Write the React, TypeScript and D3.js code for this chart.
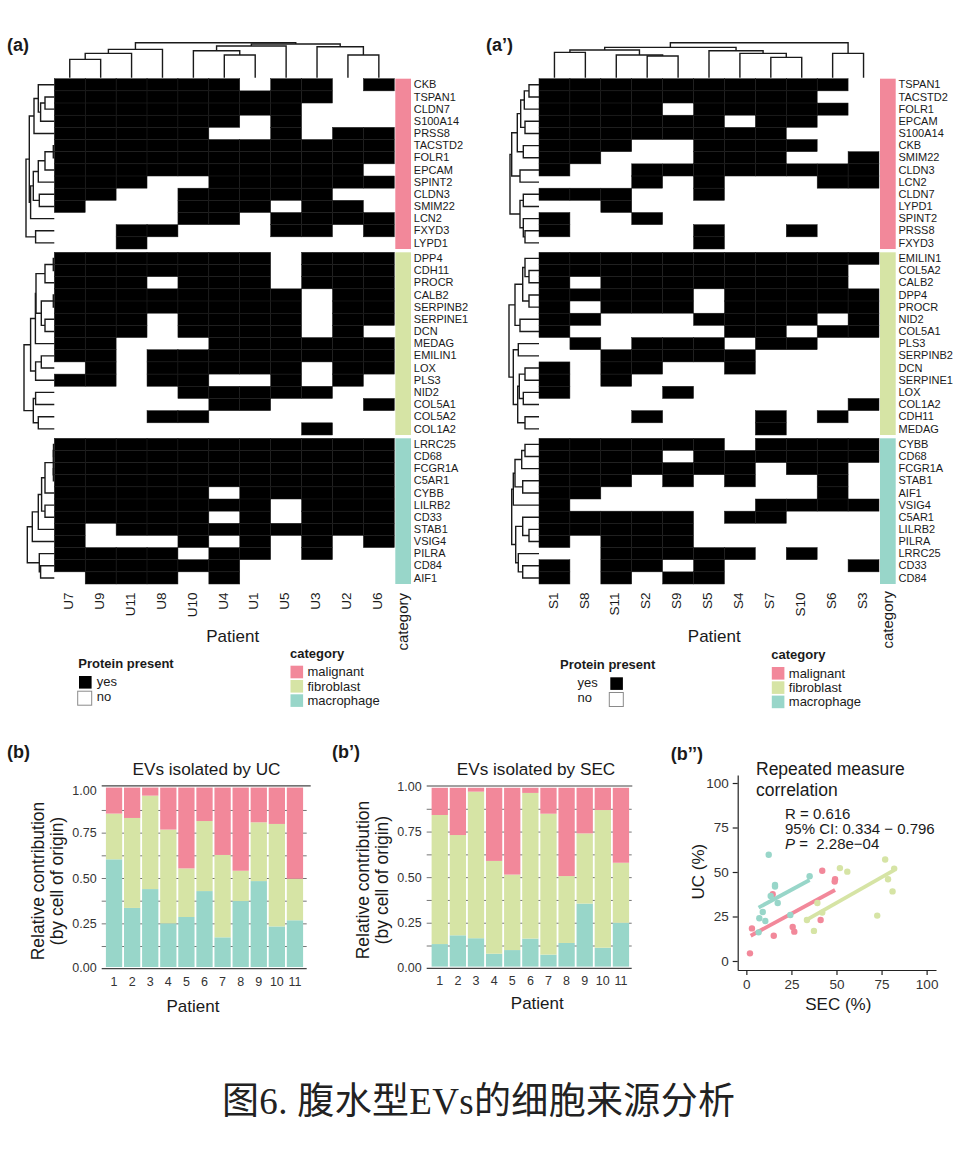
import { useEffect, useRef } from 'react';
import * as d3 from 'd3';

// ---- shared colours ----
const PINK = '#f2889a';
const GREEN = '#d6e4a5';
const TEAL = '#98d6c9';
const categoryNames = ['malignant', 'fibroblast', 'macrophage'];
const categoryColors = [PINK, GREEN, TEAL];

// ---- heatmap (a): ultracentrifugation ----
const patientsUC = ['U7', 'U9', 'U11', 'U8', 'U10', 'U4', 'U1', 'U5', 'U3', 'U2', 'U6'];

const malignantUC = ['CKB', 'TSPAN1', 'CLDN7', 'S100A14', 'PRSS8', 'TACSTD2', 'FOLR1', 'EPCAM', 'SPINT2', 'CLDN3', 'SMIM22', 'LCN2', 'FXYD3', 'LYPD1'];
const malignantPresenceUC = [
  '11111101101', '11111111100', '11111111000', '11111101000', '11111001011', '11111111111', '11111111111',
  '11111111110', '11100111111', '11001111100', '10001110110', '00001101111', '00110001101', '00100000000',
];
const fibroblastUC = ['DPP4', 'CDH11', 'PROCR', 'CALB2', 'SERPINB2', 'SERPINE1', 'DCN', 'MEDAG', 'EMILIN1', 'LOX', 'PLS3', 'NID2', 'COL5A1', 'COL5A2', 'COL1A2'];
const fibroblastPresenceUC = [
  '11111110111', '11111110111', '11101110111', '11111111011', '11111111011', '11101111011', '11101111010', '11000111111',
  '11011111111', '01011111011', '11011001010', '00001111100', '00000110001', '00011000000', '00000000100',
];
const macrophageUC = ['LRRC25', 'CD68', 'FCGR1A', 'C5AR1', 'CYBB', 'LILRB2', 'CD33', 'STAB1', 'VSIG4', 'PILRA', 'CD84', 'AIF1'];
const macrophagePresenceUC = [
  '11111111111', '11111111111', '11111111111', '11111111111', '11111011111', '11111110111',
  '11111010111', '10111111111', '10001010101', '11110110100', '11111100000', '01110100000',
];

// ---- heatmap (a'): size exclusion chromatography ----
const patientsSEC = ['S1', 'S8', 'S11', 'S2', 'S9', 'S5', 'S4', 'S7', 'S10', 'S6', 'S3'];

const malignantSEC = ['TSPAN1', 'TACSTD2', 'FOLR1', 'EPCAM', 'S100A14', 'CKB', 'SMIM22', 'CLDN3', 'LCN2', 'CLDN7', 'LYPD1', 'SPINT2', 'PRSS8', 'FXYD3'];
const malignantPresenceSEC = [
  '11111111110', '11111111100', '11110111110', '11111101100', '11111111000', '11100111100', '11000111001',
  '10011111111', '00010100011', '11100100000', '00100000000', '10010000000', '10000100100', '00000100000',
];
const fibroblastSEC = ['EMILIN1', 'COL5A2', 'CALB2', 'DPP4', 'PROCR', 'NID2', 'COL5A1', 'PLS3', 'SERPINB2', 'DCN', 'SERPINE1', 'LOX', 'COL1A2', 'CDH11', 'MEDAG'];
const fibroblastPresenceSEC = [
  '11111111111', '11111111110', '10111111110', '11111011111', '10111011111', '11000111101', '10000011011', '01011101100',
  '00111110000', '10110010000', '10100000000', '10001000000', '00000000001', '00010001010', '00000001000',
];
const macrophageSEC = ['CYBB', 'CD68', 'FCGR1A', 'STAB1', 'AIF1', 'VSIG4', 'C5AR1', 'LILRB2', 'PILRA', 'LRRC25', 'CD33', 'CD84'];
const macrophagePresenceSEC = [
  '11111101111', '11110111111', '11111110110', '11101010010', '11000000010', '10000001111',
  '11111011000', '11111000000', '10111000000', '00111110100', '10110100001', '10101100000',
];

// ---- dendrograms: [merge height, left, right], leaves are names ----
type Tree = string | [number, Tree, Tree];

const colTreeUC: Tree = [35,
  [28.3, [24.3, [18.3, 'U7', 'U9'], 'U11'], 'U8'],
  [33.7, [31.7, [27, 'U10', [22.7, 'U4', 'U1']], 'U5'], [31, 'U3', [22.7, 'U2', 'U6']]]];
const malignantTreeUC: Tree = [28.3,
  [25,
    [20.3, [16, 'CKB', [13.7, [9.3, 'TSPAN1', 'CLDN7'], 'S100A14']], 'PRSS8'],
    [23.7, [21, [16, [9.3, [1, 'TACSTD2', 'FOLR1'], 'EPCAM'], 'SPINT2'], [15, 'CLDN3', 'SMIM22']], 'LCN2']],
  [18.7, 'FXYD3', 'LYPD1']];
const fibroblastTreeUC: Tree = [30.3,
  [23.7,
    [18.9, [18.3, [9.3, [1, 'DPP4', 'CDH11'], 'PROCR'], [13, [1, 'CALB2', 'SERPINB2'], [9.3, 'SERPINE1', 'DCN']]], 'MEDAG'],
    [18.7, [13, 'EMILIN1', 'LOX'], 'PLS3']],
  [21, [18.7, 'NID2', 'COL5A1'], [16, 'COL5A2', 'COL1A2']]];
const macrophageTreeUC: Tree = [27,
  [22,
    [16, [12.7, [9.3, [1, [0.8, 'LRRC25', 'CD68'], [0.9, 'FCGR1A', 'C5AR1']], 'CYBB'], [9.3, 'LILRB2', 'CD33']], 'STAB1'],
    'VSIG4'],
  [15, 'PILRA', [13.7, 'CD84', 'AIF1']]];

const colTreeSEC: Tree = [35,
  [30.3,
    [27.7, [25.3, 'S1', 'S8'], [22.7, 'S11', [21.7, 'S2', 'S9']]],
    [27, 'S5', [24.3, 'S4', [20.3, 'S7', 'S10']]]],
  [24.3, 'S6', 'S3']];
const malignantTreeSEC: Tree = [29,
  [27.3,
    [21.7, [18.3, [14.7, [10, 'TSPAN1', 'TACSTD2'], 'FOLR1'], [14, 'EPCAM', 'S100A14']], [15.7, 'CKB', 'SMIM22']],
    [19, 'CLDN3', 'LCN2']],
  [19, [15.7, 'CLDN7', 'LYPD1'], [15.7, 'SPINT2', [14, 'PRSS8', 'FXYD3']]]];
const fibroblastTreeSEC: Tree = [30,
  [24, [16.3, [14, 'EMILIN1', [10, 'COL5A2', 'CALB2']], [10, 'DPP4', 'PROCR']], [19, 'NID2', 'COL5A1']],
  [25.7,
    [20.7, 'PLS3', 'SERPINB2'],
    [21.3, [19.7, [14, 'DCN', 'SERPINE1'], [15.7, 'LOX', 'COL1A2']], [14, 'CDH11', 'MEDAG']]]];
const macrophageTreeSEC: Tree = [27.3,
  [25.7, [24, [17.3, [14, 'CYBB', 'CD68'], 'FCGR1A'], [16.3, 'STAB1', 'AIF1']], 'VSIG4'],
  [23.3, [16.3, 'C5AR1', [10, 'LILRB2', 'PILRA']], [20.7, 'LRRC25', [16.3, 'CD33', 'CD84']]]];

// ---- stacked bars, share of each cell of origin per patient ----
const barPatients = ['1', '2', '3', '4', '5', '6', '7', '8', '9', '10', '11'];
const macrophageShareUC = [0.603, 0.335, 0.439, 0.25, 0.285, 0.428, 0.173, 0.373, 0.483, 0.233, 0.267];
const fibroblastShareUC = [0.252, 0.496, 0.515, 0.517, 0.268, 0.386, 0.454, 0.167, 0.324, 0.565, 0.229];
const malignantShareUC = [0.145, 0.169, 0.046, 0.233, 0.447, 0.186, 0.373, 0.46, 0.193, 0.202, 0.504];
const macrophageShareSEC = [0.133, 0.181, 0.165, 0.08, 0.1, 0.163, 0.075, 0.139, 0.355, 0.113, 0.25];
const fibroblastShareSEC = [0.708, 0.55, 0.804, 0.509, 0.414, 0.799, 0.773, 0.367, 0.385, 0.755, 0.329];
const malignantShareSEC = [0.159, 0.269, 0.031, 0.411, 0.486, 0.038, 0.152, 0.494, 0.26, 0.132, 0.421];

// ---- repeated measure correlation, [SEC %, UC %] ----
const malignantPoints = [[2, 4.3], [3.1, 18.3], [14.6, 37.5], [15.2, 14.2], [25.7, 19.1], [26.6, 16.5], [41.2, 23], [42.1, 50.7], [49.2, 45.9], [49, 44.6]];
const fibroblastPoints = [[33.6, 23], [39.4, 32.6], [42.1, 27.2], [37.5, 16.9], [51.9, 52.2], [56, 50.2], [72.6, 25.5], [77, 57], [78.6, 45.9], [81.1, 39.1], [82, 51.9]];
const macrophagePoints = [[12.4, 59.7], [15.9, 42.7], [15.9, 41.8], [13.5, 36.5], [17.4, 32.6], [9.1, 27.5], [7.2, 24], [10.5, 22.5], [6.8, 16.1], [24.4, 25.8], [35.1, 47.6]];
const malignantFit = [[2.4, 14.2], [49.2, 39.9]];
const fibroblastFit = [[32.9, 22.8], [82, 51.1]];
const macrophageFit = [[6.8, 30], [35.1, 45.5]];

type Sel = d3.Selection<any, unknown, null, undefined>;

function label(g: Sel, x: number, y: number, text: string, size: number, opts: any = {}) {
  const t = g.append('text')
    .attr('x', x)
    .attr('y', y)
    .attr('font-size', size)
    .attr('fill', opts.fill || '#1a1a1a')
    .attr('text-anchor', opts.anchor || 'start')
    .text(text);
  if (opts.bold) t.attr('font-weight', 'bold');
  if (opts.rotate) t.attr('transform', `rotate(-90,${x},${y})`);
  return t;
}

// walks a tree and draws one elbow per merge, returns leaf-side position and height
function drawTree(g: Sel, node: Tree, pos: (name: string) => number, dist: (h: number) => number, horizontal: boolean) {
  const walk = (n: Tree): { p: number; h: number } => {
    if (typeof n === 'string') return { p: pos(n), h: 0 };
    const a = walk(n[1]);
    const b = walk(n[2]);
    const path = d3.path();
    const pt = (p: number, h: number, move = false) => {
      const [x, y] = horizontal ? [dist(h), p] : [p, dist(h)];
      if (move) path.moveTo(x, y);
      else path.lineTo(x, y);
    };
    pt(a.p, a.h, true);
    pt(a.p, n[0]);
    pt(b.p, n[0]);
    pt(b.p, b.h);
    g.append('path')
      .attr('d', path.toString())
      .attr('fill', 'none')
      .attr('stroke', '#1a1a1a')
      .attr('stroke-width', 1.4);
    return { p: (a.p + b.p) / 2, h: n[0] };
  };
  walk(node);
}

function drawHeatmap(svg: Sel, cfg: any) {
  const g = svg.append('g');
  const x = d3.scaleBand<string>().domain(cfg.columns).range([cfg.left, cfg.left + 340]);
  const colDist = d3.scaleLinear().domain([0, 35]).range([77.7, 42.7]);
  const rowDist = d3.scaleLinear().domain([0, 30]).range([cfg.left, cfg.left - 30]);

  drawTree(g, cfg.colTree, (n) => x(n)! + x.bandwidth() / 2, colDist, false);

  cfg.blocks.forEach((b: any, bi: number) => {
    const y = d3.scaleBand<string>().domain(b.rows).range(b.span);
    const cells = b.rows.flatMap((r: string, i: number) =>
      cfg.columns.map((c: string, j: number) => ({ r, c, on: b.presence[i][j] === '1' })));
    g.append('g')
      .selectAll('rect')
      .data(cells.filter((d: any) => d.on))
      .join('rect')
      .attr('x', (d: any) => x(d.c)!)
      .attr('y', (d: any) => y(d.r)!)
      .attr('width', x.bandwidth())
      .attr('height', y.bandwidth())
      .attr('fill', '#000')
      .attr('stroke', '#1c1c1c')
      .attr('stroke-width', 0.5);

    g.append('rect')
      .attr('x', cfg.left + 341)
      .attr('y', b.span[0])
      .attr('width', 15.7)
      .attr('height', b.span[1] - b.span[0])
      .attr('fill', categoryColors[bi]);

    b.rows.forEach((r: string) => {
      label(g, cfg.left + 359.5, y(r)! + y.bandwidth() / 2 + 3.6, r, 11);
    });
    drawTree(g, b.tree, (n) => y(n)! + y.bandwidth() / 2, rowDist, true);
  });

  cfg.columns.forEach((c: string) => {
    label(g, x(c)! + x.bandwidth() / 2 + 3.2, 592.5, c, 13.5, { anchor: 'end', rotate: true });
  });
  label(g, cfg.left + 353.5, cfg.catTop, 'category', 15, { anchor: 'end', rotate: true });
  label(g, cfg.patientX, cfg.patientY, 'Patient', 17, { anchor: 'middle' });

  // protein present legend
  const p = cfg.present;
  label(g, p.x, p.y, 'Protein present', 13, { bold: true });
  g.append('rect').attr('x', p.onX).attr('y', p.y + 8.3).attr('width', 12.6).attr('height', 12.6).attr('fill', '#000');
  g.append('rect').attr('x', p.offX).attr('y', p.y + 23.5).attr('width', 14).attr('height', 14)
    .attr('fill', '#fff').attr('stroke', '#8a8a8a').attr('stroke-width', 1);
  label(g, p.textX, p.y + 18.3, 'yes', 13);
  label(g, p.textX, p.y + 33, 'no', 13);

  // category legend
  const l = cfg.legend;
  label(g, l.x, l.y, 'category', 13, { bold: true });
  categoryNames.forEach((name, i) => {
    g.append('rect').attr('x', l.x + 0.5).attr('y', l.y + 8 + i * 14.3).attr('width', 12.6).attr('height', 12.6).attr('fill', categoryColors[i]);
    label(g, l.x + 17.5, l.y + 18.5 + i * 14.3, name, 13);
  });
}

function drawBars(svg: Sel, cfg: any) {
  const g = svg.append('g');
  const rows = barPatients.map((patient, i) => ({
    patient,
    macrophage: cfg.macrophage[i],
    fibroblast: cfg.fibroblast[i],
    malignant: cfg.malignant[i],
  }));
  const x = d3.scaleBand<string>()
    .domain(barPatients)
    .range(cfg.xRange)
    .paddingInner(0.1)
    .paddingOuter(0.05);
  const y = d3.scaleLinear().domain([0, 1]).range(cfg.yRange);

  // minor and major rules sit behind the bars
  g.append('g')
    .attr('transform', `translate(${cfg.ruleLeft},0)`)
    .call(d3.axisLeft(y).tickValues(d3.range(1, 8).map((k) => k / 8)).tickSize(-(cfg.ruleRight - cfg.ruleLeft)).tickFormat(() => ''))
    .call((a: any) => a.select('.domain').remove())
    .selectAll('line')
    .attr('stroke', '#666')
    .attr('stroke-width', 0.9);

  const stack = d3.stack<any>().keys(['macrophage', 'fibroblast', 'malignant'])(rows);
  const stackColors = [TEAL, GREEN, PINK];
  stack.forEach((layer, i) => {
    g.append('g')
      .selectAll('rect')
      .data(layer)
      .join('rect')
      .attr('x', (d: any) => x(d.data.patient)!)
      .attr('width', x.bandwidth())
      .attr('y', (d) => Math.max(y(d[1]), cfg.topRule + 1.8))
      .attr('height', (d) => Math.min(y(d[0]), y(0) - 1.7) - Math.max(y(d[1]), cfg.topRule + 1.8))
      .attr('fill', stackColors[i]);
  });

  g.append('line').attr('x1', cfg.ruleLeft).attr('x2', cfg.topRight).attr('y1', cfg.topRule).attr('y2', cfg.topRule)
    .attr('stroke', '#444').attr('stroke-width', 1.2);
  g.append('line').attr('x1', cfg.ruleLeft).attr('x2', cfg.ruleRight).attr('y1', y(0)).attr('y2', y(0))
    .attr('stroke', '#444').attr('stroke-width', 1.2);

  // tick labels
  const yAxis = g.append('g')
    .attr('transform', `translate(${cfg.ruleLeft},0)`)
    .call(d3.axisLeft(y).tickValues([0, 0.25, 0.5, 0.75, 1]).tickFormat(d3.format('.2f')).tickSize(0).tickPadding(5));
  yAxis.select('.domain').remove();
  yAxis.attr('font-family', null).attr('font-size', null);
  yAxis.selectAll('text').attr('font-size', 12.5).attr('fill', '#333')
    .attr('transform', (d: any) => `translate(0,${d === 1 ? cfg.topNudge : d === 0 ? -1.2 : 0})`);

  const xAxis = g.append('g')
    .attr('transform', `translate(0,${y(0)})`)
    .call(d3.axisBottom(x).tickSize(0).tickPadding(8));
  xAxis.select('.domain').remove();
  xAxis.attr('font-family', null).attr('font-size', null);
  xAxis.selectAll('text').attr('font-size', 12.5).attr('fill', '#333');

  label(g, cfg.titleX, 775, cfg.title, 17.2, { anchor: 'middle' });
  label(g, cfg.patientX, cfg.patientY, 'Patient', 17, { anchor: 'middle' });
  label(g, cfg.yLabelX, cfg.yLabelY, 'Relative contribution', 17.5, { anchor: 'middle', rotate: true });
  label(g, cfg.yLabelX + 19, cfg.yLabelY, '(by cell of origin)', 17.5, { anchor: 'middle', rotate: true });
}

function drawScatter(svg: Sel) {
  const g = svg.append('g');
  const x = d3.scaleLinear().domain([-4.8, 105.2]).range([737.7, 936]);
  const y = d3.scaleLinear().domain([-5.06, 104.5]).range([970, 775]);
  const ticks = [0, 25, 50, 75, 100];

  const groups = [
    { points: malignantPoints, fit: malignantFit, color: PINK },
    { points: fibroblastPoints, fit: fibroblastFit, color: GREEN },
    { points: macrophagePoints, fit: macrophageFit, color: TEAL },
  ];
  const line = d3.line<number[]>().x((d) => x(d[0])).y((d) => y(d[1]));
  groups.forEach(({ points, fit, color }) => {
    g.append('g')
      .selectAll('circle')
      .data(points)
      .join('circle')
      .attr('cx', (d) => x(d[0]))
      .attr('cy', (d) => y(d[1]))
      .attr('r', 3.2)
      .attr('fill', color);
    g.append('path')
      .datum(fit)
      .attr('fill', 'none')
      .attr('stroke', color)
      .attr('stroke-width', 3.8)
      .attr('d', line);
  });

  const xAxis = g.append('g')
    .attr('transform', 'translate(0,970)')
    .call(d3.axisBottom(x).tickValues(ticks).tickSize(5).tickSizeOuter(0).tickPadding(4));
  const yAxis = g.append('g')
    .attr('transform', 'translate(737.7,0)')
    .call(d3.axisLeft(y).tickValues(ticks).tickSize(5).tickSizeOuter(0).tickPadding(4));
  [xAxis, yAxis].forEach((a) => {
    a.attr('font-family', null).attr('font-size', null);
    a.selectAll('text').attr('font-size', 13.5).attr('fill', '#333');
    a.selectAll('line, path').attr('stroke', '#222').attr('stroke-width', 1.2);
  });

  label(g, 756, 775, 'Repeated measure', 17.5);
  label(g, 756, 796, 'correlation', 17.5);
  label(g, 785, 819.3, 'R = 0.616', 15);
  label(g, 785, 834.3, '95% CI: 0.334 \u2212 0.796', 15);
  const pv = label(g, 785, 849.3, '', 15);
  pv.append('tspan').attr('font-style', 'italic').text('P');
  pv.append('tspan').attr('xml:space', 'preserve').text(' =  2.28e\u221204');
  label(g, 838.3, 1010, 'SEC (%)', 17, { anchor: 'middle' });
  label(g, 704.3, 871.7, 'UC (%)', 17, { anchor: 'middle', rotate: true });
}

export default function App() {
  const svgRef = useRef<SVGSVGElement>(null);

  useEffect(() => {
    if (!svgRef.current) return;
    const svg: Sel = d3.select(svgRef.current);
    svg.selectAll('*').remove();

    const malignantSpan = [78.7, 249];
    const fibroblastSpan = [252.3, 435];
    const macrophageSpan = [438.3, 584];

    drawHeatmap(svg, {
      left: 54.3,
      columns: patientsUC,
      colTree: colTreeUC,
      blocks: [
        { rows: malignantUC, presence: malignantPresenceUC, tree: malignantTreeUC, span: malignantSpan },
        { rows: fibroblastUC, presence: fibroblastPresenceUC, tree: fibroblastTreeUC, span: fibroblastSpan },
        { rows: macrophageUC, presence: macrophagePresenceUC, tree: macrophageTreeUC, span: macrophageSpan },
      ],
      catTop: 593,
      patientX: 232.7,
      patientY: 641.7,
      present: { x: 78.3, y: 667.7, onX: 79, offX: 77.7, textX: 96.7 },
      legend: { x: 290, y: 657.7 },
    });
    drawHeatmap(svg, {
      left: 539,
      columns: patientsSEC,
      colTree: colTreeSEC,
      blocks: [
        { rows: malignantSEC, presence: malignantPresenceSEC, tree: malignantTreeSEC, span: malignantSpan },
        { rows: fibroblastSEC, presence: fibroblastPresenceSEC, tree: fibroblastTreeSEC, span: fibroblastSpan },
        { rows: macrophageSEC, presence: macrophagePresenceSEC, tree: macrophageTreeSEC, span: macrophageSpan },
      ],
      catTop: 591,
      patientX: 714.3,
      patientY: 642.3,
      present: { x: 560, y: 669, onX: 610.3, offX: 609.3, textX: 577.5 },
      legend: { x: 771.3, y: 659 },
    });

    drawBars(svg, {
      title: 'EVs isolated by UC',
      macrophage: macrophageShareUC,
      fibroblast: fibroblastShareUC,
      malignant: malignantShareUC,
      xRange: [105, 304],
      yRange: [968.7, 787.3],
      ruleLeft: 101.7,
      ruleRight: 306.7,
      topRight: 310.7,
      topRule: 785.8,
      topNudge: 3.5,
      titleX: 206.5,
      patientX: 193,
      patientY: 1011.7,
      yLabelX: 44.3,
      yLabelY: 881,
    });
    drawBars(svg, {
      title: 'EVs isolated by SEC',
      macrophage: macrophageShareSEC,
      fibroblast: fibroblastShareSEC,
      malignant: malignantShareSEC,
      xRange: [430.7, 630],
      yRange: [968.3, 786],
      ruleLeft: 426.7,
      ruleRight: 631.7,
      topRight: 632.3,
      topRule: 786,
      topNudge: 0,
      titleX: 536,
      patientX: 537.3,
      patientY: 1009.3,
      yLabelX: 369.3,
      yLabelY: 880,
    });
    drawScatter(svg);

    // panel tags
    label(svg, 7, 50.7, '(a)', 18, { bold: true });
    label(svg, 486, 50.7, '(a\u2019)', 18, { bold: true });
    label(svg, 7, 757.7, '(b)', 18, { bold: true });
    label(svg, 332, 757.7, '(b\u2019)', 18, { bold: true });
    label(svg, 670.7, 760, '(b\u2019\u2019)', 18, { bold: true });

    // figure caption
    label(svg, 222, 1114, '\u56fe6. \u8179\u6c34\u578bEVs\u7684\u7ec6\u80de\u6765\u6e90\u5206\u6790', 37)
      .attr('font-family', '"Liberation Serif", "Noto Sans CJK SC"')
      .attr('textLength', 513)
      .attr('fill', '#222');
  }, []);

  return (
    <svg
      ref={svgRef}
      width={958}
      height={1171}
      viewBox="0 0 958 1171"
      style={{ position: 'absolute', left: 0, top: 0, background: '#fff', fontFamily: '"Liberation Sans", Arial, sans-serif' }}
    />
  );
}
